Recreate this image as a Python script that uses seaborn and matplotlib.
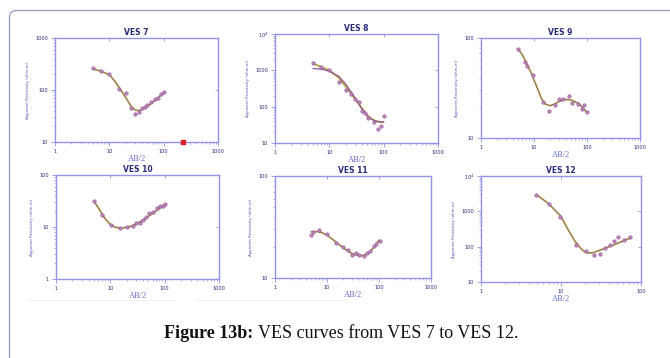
import matplotlib
matplotlib.use("Agg")
import matplotlib.pyplot as plt
import matplotlib.patches as mpatches
from matplotlib.transforms import IdentityTransform
from matplotlib.ticker import LogLocator, FixedLocator, NullFormatter, FixedFormatter
import numpy as np
import pandas as pd
import seaborn as sns

sns.set_style("white")

# ---------------- data ----------------
titles = ["VES 7", "VES 8", "VES 9", "VES 10", "VES 11", "VES 12"]

ves7_ab2 = [5, 7, 10, 15, 20, 25, 29.5, 35, 40, 45, 50, 59, 68, 79, 89, 100]
ves7_rho = [260, 230, 207, 105, 87, 46, 35, 38, 45, 48, 52, 58, 66, 71, 83, 92]
ves7_fit_ab2 = [5, 7, 10, 13, 15, 20, 25, 30, 35, 40, 50, 60, 70, 80, 100]
ves7_fit_rho = [255, 230, 198, 142, 113, 72, 49, 41, 40, 42, 49, 56, 64, 72, 90]

ves8_ab2 = [5, 7.1, 10, 15.3, 20, 25, 30, 35, 40, 46, 52, 65, 79, 89, 100]
ves8_rho = [1620, 1260, 1020, 470, 280, 218, 162, 135, 74, 68, 48, 37, 24, 30, 57]
ves8_fit_ab2 = [5, 7, 10, 15, 20, 25, 30, 35, 40, 50, 60, 70, 85, 100]
ves8_fit_rho = [1550, 1250, 1000, 620, 360, 230, 160, 118, 90, 58, 46, 41, 38, 37]
ves8_fit2_rho = [1120, 1080, 950, 680, 420, 260, 170, 118, 85, 55, 45, 40, 38, 38]

ves9_ab2 = [4.9, 6.8, 7.3, 9.4, 15, 19.4, 24.7, 30, 36, 45, 51, 68, 79, 89, 100]
ves9_rho = [78, 57, 52, 43, 23, 18.8, 21.6, 24.5, 24.5, 26.5, 22.3, 22, 19.7, 21.4, 18]
ves9_fit_ab2 = [5, 6, 7, 8, 9, 10, 12, 14, 16, 20, 25, 30, 40, 50, 60, 70, 80, 100]
ves9_fit_rho = [78, 68, 58, 50, 44, 38, 30, 24.5, 22, 21, 22, 23.3, 24.3, 24, 23, 22, 20.5, 18]

ves10_ab2 = [5, 7.1, 10.3, 15, 20.3, 25.6, 30, 35, 40, 46, 52, 62, 71, 82, 92, 102]
ves10_rho = [31, 17, 11, 9.4, 10, 10.3, 11.7, 12, 13.5, 15.8, 19, 19.5, 22.7, 24.8, 25.6, 28]
ves10_fit_ab2 = [5, 6, 7, 8, 10, 12, 15, 20, 25, 30, 40, 50, 60, 70, 80, 100]
ves10_fit_rho = [31, 23.5, 18, 14.5, 11.2, 10, 9.5, 9.8, 10.5, 11.4, 13.6, 16, 18.3, 20.5, 22.5, 27]

ves11_ab2 = [4.9, 5.5, 7.1, 10, 15, 20.3, 25.3, 30.7, 35.6, 41, 51, 59, 68, 81, 89, 103]
ves11_rho = [26.3, 28.4, 29.3, 27.3, 22.2, 20, 18.9, 16.9, 17.4, 16.9, 16.6, 17.7, 18.6, 20.6, 21.5, 23.3]
ves11_fit_ab2 = [5, 6, 7, 8, 10, 15, 20, 25, 30, 40, 50, 60, 70, 80, 100]
ves11_fit_rho = [28.5, 28.5, 28.3, 27.8, 26.3, 22.5, 20, 18.4, 17.4, 16.6, 16.6, 17.3, 18.5, 20, 23.5]

ves12_ab2 = [4.9, 7, 9.8, 15.2, 20.4, 25.7, 30.5, 35.6, 40.8, 45.9, 51.5, 60.5, 73]
ves12_rho = [2950, 1580, 700, 110, 73, 57, 64, 89, 112, 148, 186, 155, 182]
ves12_fit_ab2 = [5, 7, 10, 12, 15, 18, 20, 22, 25, 30, 40, 50, 60, 75]
ves12_fit_rho = [2900, 1650, 720, 330, 140, 85, 70, 66, 67, 78, 100, 122, 145, 180]

marker_ab2 = [224]   # red mark on VES 7 axis
marker_rho = [10]

x_limits = [(1, 1000), (1, 1000), (1, 1000), (1, 1000), (1, 1000), (1, 100)]
y_limits = [(10, 1000), (10, 10000), (10, 100), (1, 100), (10, 100), (10, 10000)]
x_ticks = [[1, 10, 100, 1000]] * 5 + [[1, 10, 100]]
x_ticklabels = [["1", "10", "100", "1000"]] * 5 + [["1", "10", "100"]]
y_ticks = [[10, 100, 1000], [10, 100, 1000, 10000], [10, 100], [1, 10, 100], [10, 100],
           [10, 100, 1000, 10000]]
y_ticklabels = [["10", "100", "1000"], ["10", "100", "1000", r"10$^4$"], ["10", "100"],
                ["1", "10", "100"], ["10", "100"], ["10", "100", "1000", r"10$^4$"]]

obs = [(ves7_ab2, ves7_rho), (ves8_ab2, ves8_rho), (ves9_ab2, ves9_rho),
       (ves10_ab2, ves10_rho), (ves11_ab2, ves11_rho), (ves12_ab2, ves12_rho)]
fits = [(ves7_fit_ab2, ves7_fit_rho), (ves8_fit_ab2, ves8_fit_rho), (ves9_fit_ab2, ves9_fit_rho),
        (ves10_fit_ab2, ves10_fit_rho), (ves11_fit_ab2, ves11_fit_rho), (ves12_fit_ab2, ves12_fit_rho)]

# ---------------- layout (pixels: left, right, top, bottom) ----------------
W, H = 670, 358
boxes = [(55, 218, 38, 142), (275, 438, 34, 143), (481, 640, 38, 138),
         (56, 219, 175, 279), (275, 431, 176, 278), (481, 641, 176, 282)]

SPINE = "#9292e8"
NAVY = "#2b2b7a"
OLIVE = "#aea33e"
PURPLE = "#8d4a97"
MARK = "#c08ab8"

fig = plt.figure(figsize=(W / 100, H / 100), dpi=100)
fig.patch.set_facecolor("white")

# rounded frame
frame = mpatches.FancyBboxPatch((9.5, -20), 700, H - 10.5 + 20,
                                boxstyle="round,pad=0,rounding_size=7",
                                transform=IdentityTransform(), fill=False,
                                edgecolor="#9d9dc8", linewidth=1.0)
fig.patches.append(frame)

# faint separators under second row
for x0, x1 in [(27, 175), (195, 345)]:
    fig.add_artist(plt.Line2D([x0 / W, x1 / W], [1 - 300 / H, 1 - 300 / H],
                              color="#eeeef4", lw=0.6, transform=fig.transFigure))

for i, (l, r, t, b) in enumerate(boxes):
    ax = fig.add_axes([l / W, 1 - b / H, (r - l) / W, (b - t) / H])
    ax.set_xscale("log")
    ax.set_yscale("log")
    xo, yo = obs[i]
    xf, yf = fits[i]
    dfit = pd.DataFrame({"ab2": xf, "rho": yf})
    sns.lineplot(data=dfit, x="ab2", y="rho", ax=ax, sort=False, color=OLIVE, lw=1.3,
                 estimator=None)
    if i == 1:
        d2 = pd.DataFrame({"ab2": ves8_fit_ab2, "rho": ves8_fit2_rho})
        sns.lineplot(data=d2, x="ab2", y="rho", ax=ax, sort=False, color=PURPLE, lw=0.8,
                     estimator=None)
    else:
        sns.lineplot(data=dfit, x="ab2", y="rho", ax=ax, sort=False, color=PURPLE, lw=0.4,
                     alpha=0.8, estimator=None)
    dobs = pd.DataFrame({"ab2": xo, "rho": yo})
    sns.scatterplot(data=dobs, x="ab2", y="rho", ax=ax, s=6, color=MARK,
                    edgecolor=PURPLE, linewidth=0.4, zorder=5)
    if i == 0:
        ax.scatter(marker_ab2, marker_rho, marker="s", s=7, color="#e0202a",
                   clip_on=False, zorder=6)

    ax.set_xlim(*x_limits[i])
    ax.set_ylim(*y_limits[i])
    for s in ax.spines.values():
        s.set_color(SPINE)
        s.set_linewidth(1.0)
    ax.xaxis.set_major_locator(FixedLocator(x_ticks[i]))
    ax.xaxis.set_major_formatter(FixedFormatter(x_ticklabels[i]))
    ax.yaxis.set_major_locator(FixedLocator(y_ticks[i]))
    ax.yaxis.set_major_formatter(FixedFormatter(y_ticklabels[i]))
    ax.xaxis.set_minor_locator(LogLocator(base=10, subs=np.arange(2, 10), numticks=20))
    ax.yaxis.set_minor_locator(LogLocator(base=10, subs=np.arange(2, 10), numticks=20))
    ax.xaxis.set_minor_formatter(NullFormatter())
    ax.yaxis.set_minor_formatter(NullFormatter())
    ax.tick_params(which="major", direction="out", length=3, width=0.6, color=SPINE,
                   labelsize=3.6, labelcolor=NAVY, pad=2, bottom=True, left=True)
    ax.tick_params(which="minor", direction="out", length=1.6, width=0.5, color=SPINE,
                   bottom=True, left=True)
    ax.set_xlabel("AB/2", fontsize=6, family="Liberation Serif", color="#6b6bd0", labelpad=0.5)
    ax.set_ylabel("Apparent Resistivity (ohm-m)", fontsize=2.8, color="#5555b8", labelpad=4)
    ax.set_title(titles[i], fontsize=5.5, fontweight="bold", color=NAVY, pad=2.5)

    # inner ticks on top and right at interior decades
    xin = [v for v in x_ticks[i] if x_limits[i][0] < v < x_limits[i][1]]
    yin = [v for v in y_ticks[i] if y_limits[i][0] < v < y_limits[i][1]]
    sx = ax.secondary_xaxis("top")
    sx.set_xticks(xin)
    sx.tick_params(direction="in", length=2.5, width=0.6, color=SPINE, labeltop=False)
    sx.xaxis.set_minor_locator(FixedLocator([]))
    sx.spines["top"].set_visible(False)
    sy = ax.secondary_yaxis("right")
    sy.set_yticks(yin)
    sy.tick_params(direction="in", length=2.5, width=0.6, color=SPINE, labelright=False)
    sy.yaxis.set_minor_locator(FixedLocator([]))
    sy.spines["right"].set_visible(False)

t1 = fig.text(341 / W, 1 - 333 / H, "Figure 13b: ", fontsize=13, fontweight="bold",
              family="Liberation Serif", ha="right", va="center", color="#111111")
t2 = fig.text(341 / W, 1 - 333 / H, "VES curves from VES 7 to VES 12.", fontsize=13,
              family="Liberation Serif", ha="left", va="center", color="#111111")
fig.canvas.draw()
r = fig.canvas.get_renderer()
w1 = t1.get_window_extent(r).width
w2 = t2.get_window_extent(r).width
cx = 341
start = cx - (w1 + w2) / 2
t1.set_x((start + w1) / W)
t2.set_x((start + w1) / W)

fig.savefig("out.png", dpi=100)
